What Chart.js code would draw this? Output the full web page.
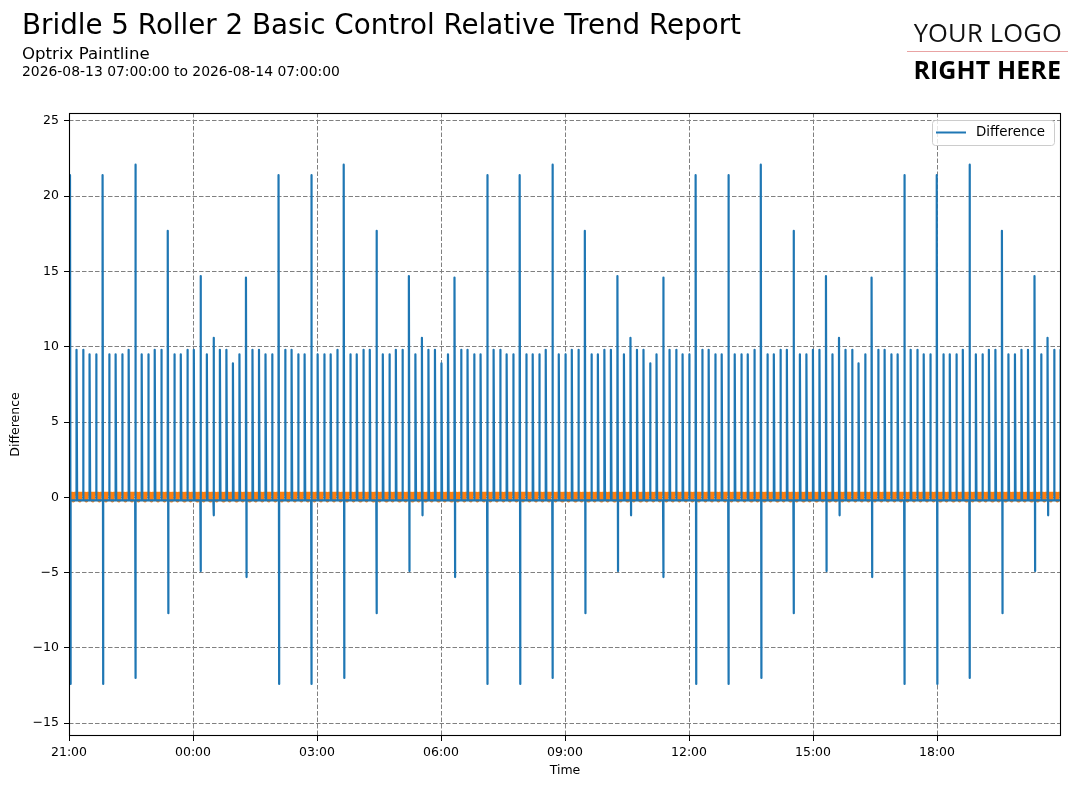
<!DOCTYPE html>
<html>
<head>
<meta charset="utf-8">
<title>Bridle 5 Roller 2 Basic Control Relative Trend Report</title>
<script src="https://cdn.jsdelivr.net/npm/chart.js@4.4.0/dist/chart.umd.min.js"></script>
<style>
  html, body { margin: 0; padding: 0; background: #fff; }
  #wrap { position: relative; width: 1084px; height: 788px; overflow: hidden; font-family: 'DejaVu Sans', sans-serif; }
  #chartBox { position: absolute; left: 0; top: 0; width: 1084px; height: 788px; }
  .txt { position: absolute; white-space: nowrap; color: #000; line-height: 1; }
  #title { left: 22px; top: 11px; font-size: 27.75px; }
  #subtitle { left: 22px; top: 46px; font-size: 16.6px; }
  #range { left: 22px; top: 65px; font-size: 13.9px; }
  #logoTop { right: 22px; top: 20px; font-family: 'Open Sans', sans-serif; font-weight: 400; font-size: 25.5px; letter-spacing: 0.2px; color: #111; }
  #logoRule { position: absolute; left: 907px; top: 51px; width: 161px; height: 1px; background: #e9a3a3; }
  #logoBottom { right: 23px; top: 57px; font-family: 'Open Sans', sans-serif; font-weight: 700; font-size: 25px; letter-spacing: 0.1px; }
</style>
</head>
<body>
<div id="wrap">
  <div id="chartBox"><canvas id="trendChart"></canvas></div>
  <div class="txt" id="title">Bridle 5 Roller 2 Basic Control Relative Trend Report</div>
  <div class="txt" id="subtitle">Optrix Paintline</div>
  <div class="txt" id="range">2026-08-13 07:00:00 to 2026-08-14 07:00:00</div>
  <div class="txt" id="logoTop">YOUR LOGO</div>
  <div id="logoRule"></div>
  <div class="txt" id="logoBottom">RIGHT HERE</div>
</div>
<script>
// ---------------------------------------------------------------
// Data (one spike every ~9.5 minutes)
// ---------------------------------------------------------------
const upPeaks = [
  21.4, 9.8, 9.8, 9.5, 9.5, 21.4, 9.5, 9.5, 9.5, 9.8, 22.1, 9.5, 9.5, 9.8, 9.8, 17.7,
  9.5, 9.5, 9.8, 9.8, 14.7, 9.5, 10.6, 9.8, 9.8, 8.9, 9.5, 14.6, 9.8, 9.8, 9.5, 9.5,
  21.4, 9.8, 9.8, 9.5, 9.5, 21.4, 9.5, 9.5, 9.5, 9.8, 22.1, 9.5, 9.5, 9.8, 9.8, 17.7,
  9.5, 9.5, 9.8, 9.8, 14.7, 9.5, 10.6, 9.8, 9.8, 8.9, 9.5, 14.6, 9.8, 9.8, 9.5, 9.5,
  21.4, 9.8, 9.8, 9.5, 9.5, 21.4, 9.5, 9.5, 9.5, 9.8, 22.1, 9.5, 9.5, 9.8, 9.8, 17.7,
  9.5, 9.5, 9.8, 9.8, 14.7, 9.5, 10.6, 9.8, 9.8, 8.9, 9.5, 14.6, 9.8, 9.8, 9.5, 9.5,
  21.4, 9.8, 9.8, 9.5, 9.5, 21.4, 9.5, 9.5, 9.5, 9.8, 22.1, 9.5, 9.5, 9.8, 9.8, 17.7,
  9.5, 9.5, 9.8, 9.8, 14.7, 9.5, 10.6, 9.8, 9.8, 8.9, 9.5, 14.6, 9.8, 9.8, 9.5, 9.5,
  21.4, 9.8, 9.8, 9.5, 9.5, 21.4, 9.5, 9.5, 9.5, 9.8, 22.1, 9.5, 9.5, 9.8, 9.8, 17.7,
  9.5, 9.5, 9.8, 9.8, 14.7, 9.5, 10.6, 9.8, 9.8
];
const downPeaks = [
  -12.4, null, null, null, null, -12.4, null, null, null, null, -12.0, null, null, null, null, -7.7,
  null, null, null, null, -4.9, null, -1.2, null, null, null, null, -5.3, null, null, null, null,
  -12.4, null, null, null, null, -12.4, null, null, null, null, -12.0, null, null, null, null, -7.7,
  null, null, null, null, -4.9, null, -1.2, null, null, null, null, -5.3, null, null, null, null,
  -12.4, null, null, null, null, -12.4, null, null, null, null, -12.0, null, null, null, null, -7.7,
  null, null, null, null, -4.9, null, -1.2, null, null, null, null, -5.3, null, null, null, null,
  -12.4, null, null, null, null, -12.4, null, null, null, null, -12.0, null, null, null, null, -7.7,
  null, null, null, null, -4.9, null, -1.2, null, null, null, null, -5.3, null, null, null, null,
  -12.4, null, null, null, null, -12.4, null, null, null, null, -12.0, null, null, null, null, -7.7,
  null, null, null, null, -4.9, null, -1.2, null, null
];
const baseLevel = [-0.2];           // blue line between spikes
const bandLevels = [0.23, -0.22];   // orange trace: resting level, short dip
const firstSpikeMin = 1.45;         // minutes after 21:00
const spikeGapMin = 9.46;

const xTickMinutes = [0, 180, 360, 540, 720, 900, 1080, 1260];
const xTickLabels = ['21:00', '00:00', '03:00', '06:00', '09:00', '12:00', '15:00', '18:00'];
const yTicks = [-15, -10, -5, 0, 5, 10, 15, 20, 25];

// ---------------------------------------------------------------
// Build line points
// ---------------------------------------------------------------
const diffPoints = [];
upPeaks.forEach(function (up, i) {
    const t = firstSpikeMin + i * spikeGapMin;
    diffPoints.push({ x: t, y: baseLevel[0] });
    diffPoints.push({ x: t, y: up });
    if (downPeaks[i] !== null) diffPoints.push({ x: t + 0.9, y: downPeaks[i] });
    diffPoints.push({ x: t + 0.9, y: baseLevel[0] });
});

const bandPoints = [{ x: 0, y: bandLevels[0] }];
upPeaks.forEach(function (_, i) {
    const mid = firstSpikeMin + (i + 0.5) * spikeGapMin;
    bandPoints.push({ x: mid - 1.1, y: bandLevels[0] });
    bandPoints.push({ x: mid, y: bandLevels[1] });
    bandPoints.push({ x: mid + 1.1, y: bandLevels[0] });
});
bandPoints.push({ x: 1440, y: bandLevels[0] });

// frame around the plot area
const framePlugin = {
    id: 'frame',
    afterDraw: function (chart) {
        const a = chart.chartArea, c = chart.ctx;
        c.save();
        c.strokeStyle = '#000';
        c.lineWidth = 1.1;
        c.strokeRect(Math.round(a.left) + 0.5, Math.round(a.top) + 0.5,
            Math.round(a.right - a.left) - 1, Math.round(a.bottom - a.top) - 1);
        c.restore();
    }
};

// matplotlib style legend in the upper right corner
const legendBoxPlugin = {
    id: 'legendBox',
    afterDraw: function (chart) {
        const a = chart.chartArea, c = chart.ctx;
        const w = 122, h = 25;
        const x = a.right - 7 - w, y = a.top + 7;
        c.save();
        c.beginPath();
        c.roundRect(x + 0.5, y + 0.5, w, h, 3);
        c.fillStyle = 'rgba(255,255,255,0.8)';
        c.fill();
        c.strokeStyle = '#cccccc';
        c.lineWidth = 1;
        c.stroke();
        c.beginPath();
        c.moveTo(x + 4, y + 12.5);
        c.lineTo(x + 34, y + 12.5);
        c.strokeStyle = '#1f77b4';
        c.lineWidth = 2;
        c.stroke();
        c.fillStyle = '#000';
        c.font = '13.4px "DejaVu Sans"';
        c.textBaseline = 'middle';
        c.fillText(chart.data.datasets[0].label, x + 44, y + 13);
        c.restore();
    }
};

Chart.defaults.font.family = '"DejaVu Sans", sans-serif';
Chart.defaults.color = '#000';

const ctx = document.getElementById('trendChart').getContext('2d');
new Chart(ctx, {
    type: 'line',
    data: {
        datasets: [{
            label: 'Difference',
            data: diffPoints,
            borderColor: '#1f77b4',
            borderWidth: 2.2,
            borderJoinStyle: 'round',
            pointRadius: 0,
            tension: 0,
            order: 0
        }, {
            label: 'band',
            data: bandPoints,
            borderColor: '#ff7f0e',
            borderWidth: 4,
            borderJoinStyle: 'round',
            pointRadius: 0,
            tension: 0,
            order: 1
        }]
    },
    options: {
        animation: false,
        responsive: true,
        maintainAspectRatio: false,
        layout: { padding: { top: 113, right: 23, left: 0, bottom: 0 } },
        plugins: {
            legend: { display: false },
            tooltip: { enabled: false }
        },
        scales: {
            x: {
                type: 'linear',
                min: 0,
                max: 1440,
                afterBuildTicks: function (scale) {
                    scale.ticks = xTickMinutes.map(v => ({ value: v }));
                },
                afterFit: function (scale) { scale.height = 52; },
                ticks: {
                    autoSkip: false,
                    maxRotation: 0,
                    padding: 4,
                    font: { size: 12.5 },
                    callback: function (v) {
                        const k = xTickMinutes.indexOf(v);
                        return k >= 0 ? xTickLabels[k] : '';
                    }
                },
                grid: { color: '#808080', lineWidth: 1, tickLength: 5, tickColor: '#000', tickWidth: 1 },
                border: { display: false, dash: [4.5, 2] },
                title: { display: true, text: 'Time', font: { size: 12.5 }, padding: { top: 0, bottom: 10 } }
            },
            y: {
                min: -15.86,
                max: 25.53,
                afterBuildTicks: function (scale) {
                    scale.ticks = yTicks.map(v => ({ value: v }));
                },
                afterFit: function (scale) { scale.width = 69; },
                ticks: {
                    padding: 5,
                    font: { size: 12.5 },
                    callback: function (v) { return String(v).replace('-', '\u2212'); }
                },
                grid: { color: '#808080', lineWidth: 1, tickLength: 5, tickColor: '#000', tickWidth: 1 },
                border: { display: false, dash: [4.5, 2] },
                title: { display: true, text: 'Difference', font: { size: 12.5 }, padding: { top: 8.5, bottom: 0 } }
            }
        }
    },
    plugins: [framePlugin, legendBoxPlugin]
});
</script>
</body>
</html>
